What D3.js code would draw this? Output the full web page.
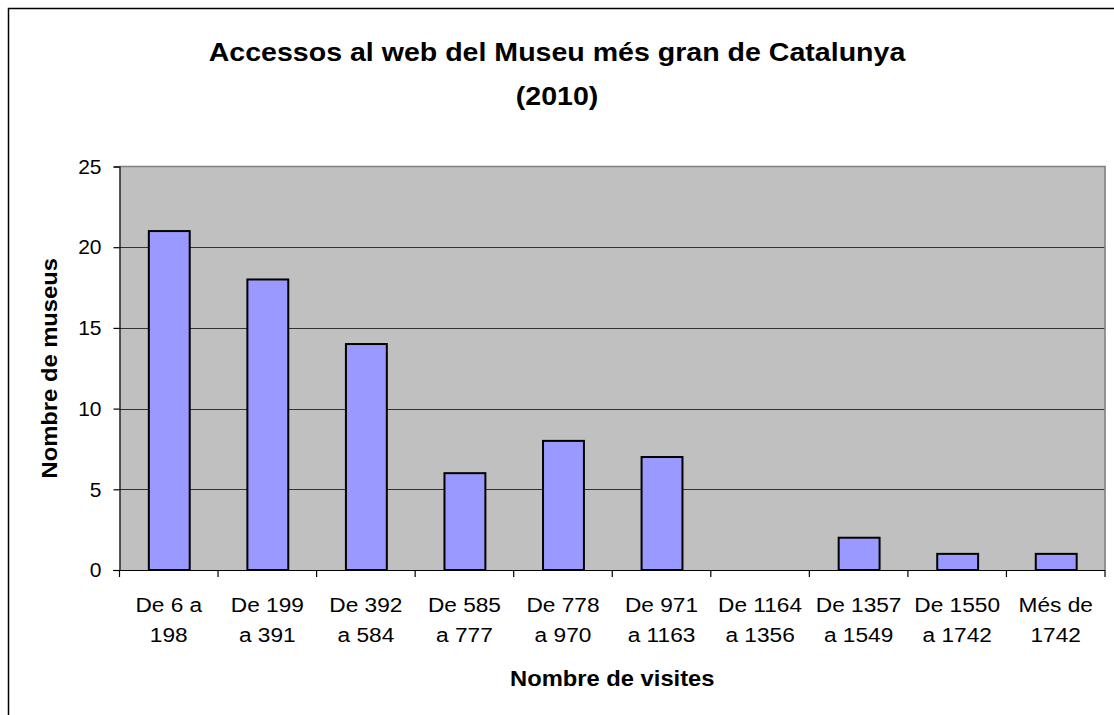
<!DOCTYPE html>
<html>
<head>
<meta charset="utf-8">
<script src="https://cdn.jsdelivr.net/npm/d3@7"></script>
<style>
  html, body { margin: 0; padding: 0; background: #fff; }
  svg { display: block; }
  text { font-family: "Liberation Sans", Arial, sans-serif; fill: #000; }
</style>
</head>
<body>
<svg id="chart" width="1114" height="715"></svg>
<script>
// Visit ranges (two-line labels) and number of museums in each range
const categories = [
  ["De 6 a", "198"],
  ["De 199", "a 391"],
  ["De 392", "a 584"],
  ["De 585", "a 777"],
  ["De 778", "a 970"],
  ["De 971", "a 1163"],
  ["De 1164", "a 1356"],
  ["De 1357", "a 1549"],
  ["De 1550", "a 1742"],
  ["Més de", "1742"]
];
const museums = [21, 18, 14, 6, 8, 7, 0, 2, 1, 1];
const yTicks = [0, 5, 10, 15, 20, 25];

const titleLines = ["Accessos al web del Museu més gran de Catalunya", "(2010)"];
const xTitle = "Nombre de visites";
const yTitle = "Nombre de museus";

const W = 1114, H = 715;
const plot = { left: 119.5, right: 1105, top: 166.5, bottom: 570 };
const STRETCH = 1.08; // horizontal widening of glyphs

const svg = d3.select("#chart");

// outer chart frame
svg.append("rect")
  .attr("x", 8.5).attr("y", 8.5)
  .attr("width", W + 20).attr("height", H + 20)
  .attr("fill", "#fff").attr("stroke", "#000").attr("stroke-width", 1.5);

const x = d3.scaleBand()
  .domain(d3.range(categories.length))
  .range([plot.left, plot.right])
  .paddingInner(0.585).paddingOuter(0.2925);

const xStep = d3.scaleBand()
  .domain(d3.range(categories.length))
  .range([plot.left, plot.right]);

const y = d3.scaleLinear().domain([0, 25]).range([plot.bottom, plot.top]);

// plot background
svg.append("rect")
  .attr("x", plot.left).attr("y", plot.top)
  .attr("width", plot.right - plot.left).attr("height", plot.bottom - plot.top)
  .attr("fill", "#c0c0c0");

// gridlines
svg.append("g")
  .selectAll("line")
  .data(yTicks.filter(t => t > 0 && t < 25))
  .join("line")
  .attr("x1", plot.left).attr("x2", plot.right)
  .attr("y1", d => Math.round(y(d)) + 0.5).attr("y2", d => Math.round(y(d)) + 0.5)
  .attr("stroke", "#333").attr("stroke-width", 1.2);

// plot border on top and right
svg.append("path")
  .attr("d", `M${plot.left},${plot.top}H${plot.right}V${plot.bottom}`)
  .attr("fill", "none").attr("stroke", "#808080").attr("stroke-width", 1.6);

// bars
svg.append("g")
  .selectAll("rect")
  .data(museums)
  .join("rect")
  .attr("x", (d, i) => x(i) + 0.5)
  .attr("y", d => y(d))
  .attr("width", x.bandwidth())
  .attr("height", d => y(0) - y(d))
  .attr("fill", "#9999ff")
  .attr("stroke", "#000")
  .attr("stroke-width", d => d > 0 ? 2 : 0);

// y axis
const yAxis = svg.append("g")
  .attr("transform", `translate(${plot.left},0)`)
  .call(d3.axisLeft(y).tickValues(yTicks).tickSize(6).tickPadding(12));
yAxis.select(".domain").attr("stroke", "#000").attr("stroke-width", 1.2);
yAxis.selectAll(".tick line").attr("stroke", "#000").attr("stroke-width", 1.2);
yAxis.selectAll(".tick text")
  .attr("font-size", 21)
  .attr("font-family", "'Liberation Sans', Arial, sans-serif")
  .attr("fill", "#000");

// x axis line and ticks at category boundaries
const xAxisG = svg.append("g");
xAxisG.append("line")
  .attr("x1", plot.left - 6).attr("x2", plot.right)
  .attr("y1", plot.bottom + 0.5).attr("y2", plot.bottom + 0.5)
  .attr("stroke", "#000").attr("stroke-width", 1.2);
const boundaries = d3.range(categories.length + 1).map(i =>
  i < categories.length ? xStep(i) : plot.right);
xAxisG.selectAll("line.tk")
  .data(boundaries)
  .join("line")
  .attr("class", "tk")
  .attr("x1", d => d).attr("x2", d => d)
  .attr("y1", plot.bottom).attr("y2", plot.bottom + 7)
  .attr("stroke", "#000").attr("stroke-width", 1.2);

// category labels
const catLabels = svg.append("g")
  .selectAll("text")
  .data(categories)
  .join("text")
  .attr("text-anchor", "middle")
  .attr("font-size", 21)
  .attr("transform", (d, i) =>
    `translate(${xStep(i) + xStep.bandwidth() / 2},612) scale(${STRETCH},1)`);
catLabels.selectAll("tspan")
  .data(d => d)
  .join("tspan")
  .attr("x", 0)
  .attr("y", (d, i) => i * 30)
  .text(d => d);

// title
svg.append("g")
  .selectAll("text")
  .data(titleLines)
  .join("text")
  .attr("text-anchor", "middle")
  .attr("font-size", 25.5)
  .attr("font-weight", "bold")
  .attr("transform", (d, i) => `translate(${W / 2},${61 + i * 44}) scale(1.12,1)`)
  .text(d => d);

// axis titles
svg.append("text")
  .attr("text-anchor", "middle")
  .attr("font-size", 22)
  .attr("font-weight", "bold")
  .attr("transform", `translate(${(plot.left + plot.right) / 2},686) scale(${STRETCH},1)`)
  .text(xTitle);

svg.append("text")
  .attr("text-anchor", "middle")
  .attr("font-size", 22)
  .attr("font-weight", "bold")
  .attr("transform", `translate(57,${(plot.top + plot.bottom) / 2}) rotate(-90) scale(${STRETCH},1)`)
  .text(yTitle);
</script>
</body>
</html>
